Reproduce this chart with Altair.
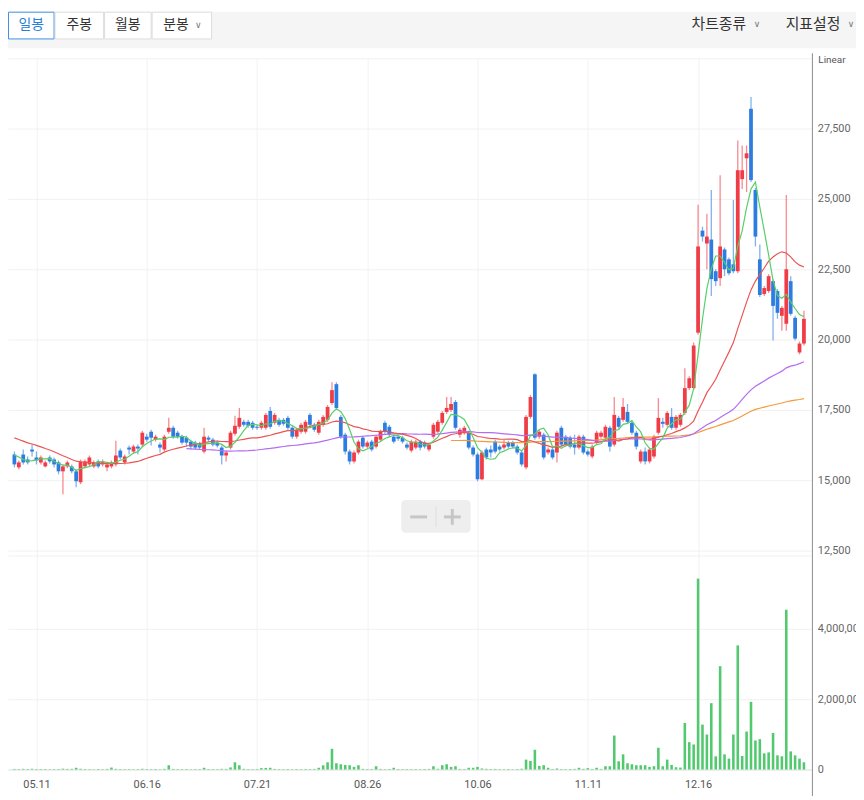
import json
import altair as alt
import numpy as np
import pandas as pd

# ---------------- data ----------------
# closes of the 20 sessions before the visible window (needed for the moving averages)
pre_close = [16700, 16850, 16750, 16900, 16800, 16650, 16900, 16850, 16700, 16800,
             16750, 16900, 16850, 16750, 16200, 16050, 15950, 16100, 15900, 15950]

open_ = [15915, 15458, 15915, 15739, 16092, 15810, 15634, 15493, 15810, 15739,
         15634, 15317, 15493, 15493, 15317, 14930, 15493, 15563, 15493, 15669,
         15563, 15458, 15493, 15563, 16056, 15634, 16162, 16021, 16197, 16268,
         16549, 16725, 16444, 16268, 16092, 16725, 16866, 16690, 16549, 16514,
         16373, 16338, 16303, 16021, 16514, 16444, 16338, 16162, 15880, 16162,
         16655, 16901, 17077, 17077, 17042, 16901, 16866, 16866, 17465, 17042,
         17148, 17148, 17218, 16866, 16549, 16725, 16725, 17324, 16972, 16690,
         16972, 17148, 17746, 18415, 17253, 16620, 16021, 15669, 15986, 16514,
         16197, 16373, 16197, 16444, 17042, 16901, 16549, 16549, 16514, 16268,
         16056, 16162, 16373, 16338, 16092, 16549, 16725, 17042, 17430, 17500,
         17782, 16620, 16690, 16690, 16162, 15915, 15035, 16092, 16092, 16373,
         16197, 16162, 16338, 16338, 16197, 15986, 15458, 17253, 18767, 16549,
         16620, 15986, 16092, 15986, 16866, 16549, 16514, 16268, 16162, 16549,
         16021, 15845, 16338, 16549, 16514, 16866, 16268, 17218, 17148, 17430,
         17042, 16690, 15669, 16021, 15669, 15845, 16690, 17077, 16972, 17253,
         16866, 16972, 17394, 18275, 18275, 20246, 23873, 23415, 23556, 22430,
         22183, 23204, 22852, 22676, 22430, 25704, 26444, 28204, 25317, 22852,
         21620, 21725, 22077, 21725, 20845, 20563, 22077, 20775, 19542, 19859]

close = [15563, 15634, 15634, 15634, 16021, 15704, 15810, 15634, 15669, 15563,
         15317, 15493, 15634, 15317, 14965, 15669, 15669, 15810, 15634, 15493,
         15669, 15563, 15634, 15880, 15810, 15845, 16092, 16197, 16127, 16690,
         16444, 16514, 16549, 16162, 16549, 16866, 16549, 16549, 16338, 16338,
         16197, 16162, 16162, 16549, 16444, 16268, 16232, 15880, 15986, 16690,
         16937, 17218, 16972, 16937, 16866, 16866, 17042, 17324, 16901, 17324,
         16972, 17007, 16866, 16549, 16796, 16972, 17077, 16972, 16796, 17077,
         17253, 17606, 18204, 17570, 16549, 16021, 15669, 15986, 16373, 16197,
         16338, 16092, 16549, 16725, 16725, 16620, 16373, 16479, 16373, 16162,
         16373, 16373, 16162, 16197, 16268, 16972, 17077, 17394, 17570, 17711,
         16866, 16796, 16866, 16162, 15915, 15035, 15986, 15810, 15986, 16021,
         16092, 16268, 16197, 16197, 15986, 15563, 17253, 17958, 16514, 16725,
         15810, 16092, 15810, 16690, 16268, 16268, 16197, 16162, 16549, 15986,
         15915, 16197, 16690, 16690, 16901, 16197, 17324, 16901, 17606, 17077,
         16690, 16197, 16021, 15669, 16092, 16549, 17218, 17007, 17394, 16866,
         17253, 17324, 18275, 18627, 19789, 23310, 23662, 23662, 22148, 22077,
         23310, 22500, 22359, 22430, 26021, 26021, 26620, 25669, 23662, 21585,
         21831, 22254, 21197, 20951, 21127, 22500, 20915, 20035, 19859, 20739]

high = [16020, 15704, 16092, 15845, 16268, 16021, 15880, 15704, 15880, 15810,
        15704, 15563, 15704, 15563, 15387, 15739, 15739, 15880, 15704, 15739,
        15739, 15634, 15704, 16408, 16127, 15915, 16232, 16268, 16268, 16761,
        16655, 16796, 16620, 16338, 16620, 17218, 16937, 16761, 16620, 16585,
        16444, 16408, 16373, 16866, 16585, 16514, 16408, 16232, 16056, 16761,
        17289, 17570, 17148, 17148, 17113, 16972, 17113, 17394, 17606, 17394,
        17218, 17218, 17289, 16937, 16866, 17042, 17148, 17394, 17042, 17148,
        17324, 17676, 18486, 18486, 17324, 16690, 16092, 16056, 16444, 16585,
        16408, 16444, 16620, 16796, 17113, 16972, 16620, 16620, 16585, 16338,
        16444, 16444, 16444, 16408, 16338, 17042, 17148, 17465, 17958, 17958,
        17852, 16866, 16937, 16761, 16232, 15986, 16056, 16162, 16232, 16444,
        16268, 16444, 16408, 16408, 16268, 16056, 17324, 18028, 18802, 16796,
        16690, 16162, 16162, 16761, 16937, 16620, 16585, 16620, 16620, 16620,
        16092, 16268, 16761, 16761, 16972, 16937, 17958, 17289, 17922, 17711,
        17113, 16761, 16092, 16162, 16162, 16620, 17922, 17218, 17465, 17570,
        17324, 17394, 18979, 18697, 19894, 24789, 24014, 24472, 25317, 22500,
        25845, 23275, 22922, 24965, 27077, 26901, 26901, 28626, 25387, 23380,
        21901, 22324, 22148, 21796, 21197, 25141, 22254, 20845, 19930, 21021]

low = [15458, 15387, 15563, 15563, 15845, 15563, 15563, 15458, 15599, 15458,
       15211, 14507, 15423, 15246, 14754, 14859, 15423, 15493, 15423, 15423,
       15493, 15317, 15423, 15493, 15739, 15563, 15915, 15951, 15915, 16197,
       16373, 16232, 16373, 15986, 16021, 16655, 16479, 16479, 16268, 16197,
       16092, 16092, 16092, 15951, 16373, 16197, 16162, 15563, 15669, 16092,
       16585, 16831, 16901, 16866, 16796, 16796, 16796, 16796, 16831, 16972,
       16901, 16937, 16796, 16479, 16479, 16655, 16655, 16901, 16725, 16620,
       16901, 17077, 17676, 17500, 16479, 15915, 15563, 15599, 15915, 16127,
       16127, 16021, 16127, 16373, 16655, 16549, 16303, 16408, 16303, 16092,
       15986, 16092, 16056, 16127, 16021, 16479, 16655, 16972, 17359, 17430,
       16796, 16514, 16620, 16092, 15845, 14965, 15000, 15739, 15810, 15951,
       16021, 16092, 16127, 16127, 15915, 15493, 15387, 17183, 16444, 16479,
       15739, 15915, 15739, 15634, 16197, 16197, 16127, 15915, 16092, 15915,
       15845, 15775, 16268, 16479, 16444, 16021, 16197, 16831, 17077, 17007,
       16620, 16092, 15599, 15563, 15599, 15775, 16620, 16866, 16901, 16796,
       16796, 16901, 17324, 18204, 18204, 20176, 23486, 22500, 21549, 21901,
       21901, 22254, 22289, 22359, 22359, 25352, 25246, 25599, 23310, 21514,
       21549, 21655, 19965, 20739, 20317, 20317, 20845, 19965, 19472, 19789]

# volume, thousands of shares
vol_k = [18, 12, 20, 15, 22, 14, 12, 16, 10, 14,
         16, 25, 18, 20, 50, 22, 14, 12, 10, 15,
         12, 18, 56, 20, 14, 12, 16, 10, 12, 22,
         14, 12, 16, 10, 20, 122, 18, 14, 12, 16,
         10, 14, 12, 50, 16, 14, 12, 20, 18, 60,
         206, 122, 20, 14, 12, 16, 40, 45, 50, 18,
         14, 12, 16, 10, 14, 12, 16, 14, 18, 50,
         120, 206, 590, 178, 150, 131, 122, 75, 122, 20,
         16, 14, 94, 18, 12, 16, 50, 14, 12, 16,
         12, 14, 10, 16, 18, 94, 20, 122, 150, 75,
         94, 18, 14, 50, 50, 75, 30, 20, 16, 18,
         14, 12, 16, 10, 14, 22, 282, 245, 563, 103,
         122, 50, 16, 30, 14, 12, 16, 18, 50, 20,
         40, 16, 50, 18, 94, 94, 966, 235, 432, 178,
         150, 122, 122, 122, 75, 94, 620, 94, 282, 131,
         66, 56, 1324, 779, 713, 5430, 1277, 995, 1887, 376,
         2939, 432, 310, 995, 3530, 385, 1080, 1925, 826, 864,
         460, 488, 1040, 404, 376, 4545, 516, 404, 310, 206]

tick_idx = [5, 30, 55, 80, 105, 130, 155]
tick_lbl = ["05.11", "06.16", "07.21", "08.26", "10.06", "11.11", "12.16"]
price_ticks = [12500, 15000, 17500, 20000, 22500, 25000, 27500, 30000]
vol_ticks = [0, 2000000, 4000000, 6085000]
ma_windows = [5, 20, 60, 120]
ma_colors = ["#56cf67", "#ea5552", "#b46cf3", "#f39a3d"]

buttons = ["일봉", "주봉", "월봉", "분봉"]
btn_x0 = [0, 47, 97, 145]
btn_x1 = [47, 97, 145, 206]
right_menus = ["차트종류", "지표설정"]
right_x = [690, 785]

# ---------------- table ----------------
n = len(close)
full = pd.Series(pre_close + close, dtype=float)
df = pd.DataFrame({
    "i": list(range(n)), "open": open_, "close": close, "high": high, "low": low,
    "vol": [v * 1000 for v in vol_k],
})
df["dir"] = np.where(df["close"] >= df["open"], "up", "down")
for w in ma_windows:
    df[f"ma{w}"] = full.rolling(w).mean().iloc[len(pre_close):].to_numpy()

# ---------------- geometry ----------------
W = 812                 # plot width
PH, GAP, VH = 497, 5, 216   # price pane, gap, volume pane heights
H = PH + GAP + VH
P_MIN, P_MAX = 12500, 30000
V_MAX = 6085000
p_bottom = P_MIN - (VH + GAP) * (P_MAX - P_MIN) / PH
v_top = V_MAX * H / VH
XDOM = [-0.33, 179.8]
KFONT = "Noto Sans CJK KR"
NFONT = "Roboto"
TOP = 47
BOTTOM = 23

lbl_expr = "[" + ",".join(json.dumps(s) for s in tick_lbl) + "][round((datum.value-5)/25)]"
xenc = alt.X("i:Q", scale=alt.Scale(domain=XDOM, nice=False, zero=False),
             axis=alt.Axis(values=tick_idx, labelExpr=lbl_expr, ticks=False, domain=True,
                           domainColor="#e3e3e3", grid=True, gridColor="#f1f2f4",
                           labelFont=NFONT, labelFontSize=11, labelColor="#555",
                           labelPadding=9, title=None))

yscale_p = alt.Scale(domain=[p_bottom, P_MAX], nice=False, zero=False)
yaxis_p = alt.Axis(orient="right", values=price_ticks,
                   labelExpr="datum.value >= 30000 ? '' : format(datum.value, ',')",
                   grid=True, gridColor="#f1f1f1", domain=False, ticks=False,
                   labelPadding=5, labelFont=NFONT, labelFontSize=11, labelColor="#666",
                   title=None)
dir_color = alt.Color("dir:N", scale=alt.Scale(domain=["up", "down"],
                                                range=["#f03c46", "#2d7de0"]), legend=None)

base = alt.Chart(df)
wick = base.mark_rule(strokeWidth=1.3, opacity=0.6).encode(
    x=xenc, y=alt.Y("low:Q", scale=yscale_p, axis=yaxis_p), y2="high:Q", color=dir_color)
body = base.mark_bar(size=3.8).encode(
    x="i:Q", y=alt.Y("open:Q", scale=yscale_p), y2="close:Q", color=dir_color)

ma_layers = []
for w, c in zip(reversed(ma_windows), reversed(ma_colors)):
    ma_layers.append(base.mark_line(color=c, strokeWidth=1.2).encode(
        x="i:Q", y=alt.Y(f"ma{w}:Q", scale=yscale_p)))

one = alt.Chart(pd.DataFrame({"k": [0]}))
deco = [
    one.mark_rule(color="#8c8c8c", strokeWidth=1).encode(
        x=alt.value(W), y=alt.value(-5), y2=alt.value(H + 40)),
    one.mark_text(text="Linear", align="left", baseline="middle", font=NFONT,
                  fontSize=10, color="#555").encode(x=alt.value(W + 6), y=alt.value(2)),
    one.mark_rect(color="#eeeeee", cornerRadius=4).encode(
        x=alt.value(397), x2=alt.value(467), y=alt.value(446), y2=alt.value(479)),
    one.mark_rule(color="#dedede", strokeWidth=1).encode(
        x=alt.value(432), y=alt.value(452), y2=alt.value(473)),
    one.mark_rule(color="#c6c6c6", strokeWidth=3).encode(
        x=alt.value(406), x2=alt.value(423), y=alt.value(463)),
    one.mark_rule(color="#c6c6c6", strokeWidth=3).encode(
        x=alt.value(440), x2=alt.value(457), y=alt.value(463)),
    one.mark_rule(color="#c6c6c6", strokeWidth=3).encode(
        x=alt.value(448.5), y=alt.value(455), y2=alt.value(471)),
]

# ---------------- toolbar (drawn in the top padding) ----------------
tb = [one.mark_rect(color="#f5f5f5").encode(
    x=alt.value(0), x2=alt.value(W + 44), y=alt.value(-TOP), y2=alt.value(-10))]
for k, (a, b) in enumerate(zip(btn_x0, btn_x1)):
    sel = k == 0
    tb.append(one.mark_rect(fill="white", stroke="#3d8fe8" if sel else "#dddddd",
                            strokeWidth=1).encode(
        x=alt.value(a + 0.5), x2=alt.value(b - 0.5),
        y=alt.value(-TOP + 0.5), y2=alt.value(-TOP + 27.5)))
for k, (lab, a, b) in enumerate(zip(buttons, btn_x0, btn_x1)):
    sel = k == 0
    cx = (a + b) / 2 if k < 3 else (a + b) / 2 - 6
    tb.append(one.mark_text(text=lab, align="center", baseline="middle", font=KFONT,
                            fontSize=14, color="#2a7fd8" if sel else "#333").encode(
        x=alt.value(cx), y=alt.value(-TOP + 13)))
tb.append(one.mark_text(text="∨", align="center", baseline="middle", font="DejaVu Sans",
                        fontSize=9, color="#777").encode(x=alt.value(192), y=alt.value(-TOP + 13)))
for lab, xl in zip(right_menus, right_x):
    tb.append(one.mark_text(text=lab, align="left", baseline="middle", font=KFONT,
                            fontSize=15, color="#333").encode(x=alt.value(xl), y=alt.value(-TOP + 12)))
    tb.append(one.mark_text(text="∨", align="center", baseline="middle", font="DejaVu Sans",
                            fontSize=9, color="#777").encode(x=alt.value(xl + 66), y=alt.value(-TOP + 12)))

price_group = alt.layer(wick, body, *ma_layers, *deco, *tb)

vol_group = base.mark_bar(size=2.6, color="#52c96e").encode(
    x="i:Q",
    y=alt.Y("vol:Q", scale=alt.Scale(domain=[0, v_top], nice=False),
            axis=alt.Axis(orient="right", values=vol_ticks,
                          labelExpr="datum.value > 5000000 ? '' : format(datum.value, ',')",
                          grid=True, gridColor="#f1f1f1", domain=False, ticks=False,
                          labelPadding=5, labelFont=NFONT, labelFontSize=11,
                          labelColor="#666", title=None)))

chart = alt.layer(price_group, vol_group).resolve_scale(y="independent").properties(
    width=W, height=H,
    autosize=alt.AutoSizeParams(type="none"),
    padding={"left": 0, "top": TOP, "right": 44, "bottom": BOTTOM},
    background="white",
).configure_view(stroke=None)

chart.save("out.html", embed_options={"renderer": "svg", "actions": False})
